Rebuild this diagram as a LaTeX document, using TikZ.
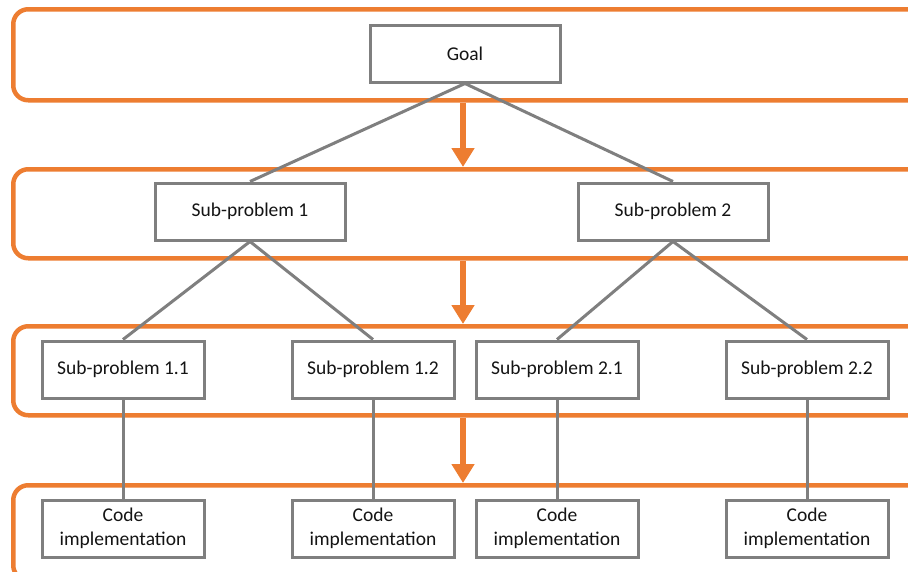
\documentclass[tikz,border=0pt]{standalone}
\usepackage{fontspec}
\setmainfont{Carlito}
\usetikzlibrary{arrows.meta}
\definecolor{borange}{HTML}{ED7D31}
\definecolor{bgray}{HTML}{7F7F7F}
\begin{document}
\begin{tikzpicture}[x=1pt,y=-1pt,
  band/.style={draw=borange,line width=4.5pt,rounded corners=15pt,minimum width=#1,anchor=north west,inner sep=0pt},
  box/.style={draw=bgray,line width=3pt,fill=white,minimum height=57pt,inner sep=0pt,align=center,font=\fontsize{19.5}{24}\selectfont,text=black!92},
  link/.style={draw=bgray,line width=3pt},
  flow/.style={draw=borange,line width=6pt,-{Triangle[width=22pt,length=19pt]}}]
\useasboundingbox (0,0) rectangle (908,571);
\begin{scope}
\clip (0,0) rectangle (908,571);
\node[band=920pt,minimum height=91pt] (b1) at (11,7) {};
\node[band=920pt,minimum height=89pt] (b2) at (11,167) {};
\node[band=920pt,minimum height=89pt] (b3) at (11,324) {};
\node[band=920pt,minimum height=95pt] (b4) at (11,483) {};
\end{scope}
% boxes
\node[box,minimum width=190pt] (goal) at (465,53.5) {Goal};
\node[box,minimum width=190pt] (s1) at (250,211.5) {Sub-problem 1};
\node[box,minimum width=190pt] (s2) at (673,211.5) {Sub-problem 2};
\node[box,minimum width=162pt] (s11) at (123,369.5) {Sub-problem 1.1};
\node[box,minimum width=162pt] (s12) at (373,369.5) {Sub-problem 1.2};
\node[box,minimum width=162pt] (s21) at (557,369.5) {Sub-problem 2.1};
\node[box,minimum width=162pt] (s22) at (807,369.5) {Sub-problem 2.2};
\node[box,minimum width=162pt] (c11) at (123,528.5) {Code\\implementation};
\node[box,minimum width=162pt] (c12) at (373,528.5) {Code\\implementation};
\node[box,minimum width=162pt] (c21) at (557,528.5) {Code\\implementation};
\node[box,minimum width=162pt] (c22) at (807,528.5) {Code\\implementation};
% links
\draw[link] (goal.south) -- (s1.north);
\draw[link] (goal.south) -- (s2.north);
\draw[link] (s1.south) -- (s11.north);
\draw[link] (s1.south) -- (s12.north);
\draw[link] (s2.south) -- (s21.north);
\draw[link] (s2.south) -- (s22.north);
\draw[link] (s11) -- (c11);
\draw[link] (s12) -- (c12);
\draw[link] (s21) -- (c21);
\draw[link] (s22) -- (c22);
% orange arrows
\coordinate (ax) at (463,0);
\draw[flow] (b1.south -| ax) -- (b2.north -| ax);
\draw[flow] (b2.south -| ax) -- (b3.north -| ax);
\draw[flow] (b3.south -| ax) -- (b4.north -| ax);
\end{tikzpicture}
\end{document}
